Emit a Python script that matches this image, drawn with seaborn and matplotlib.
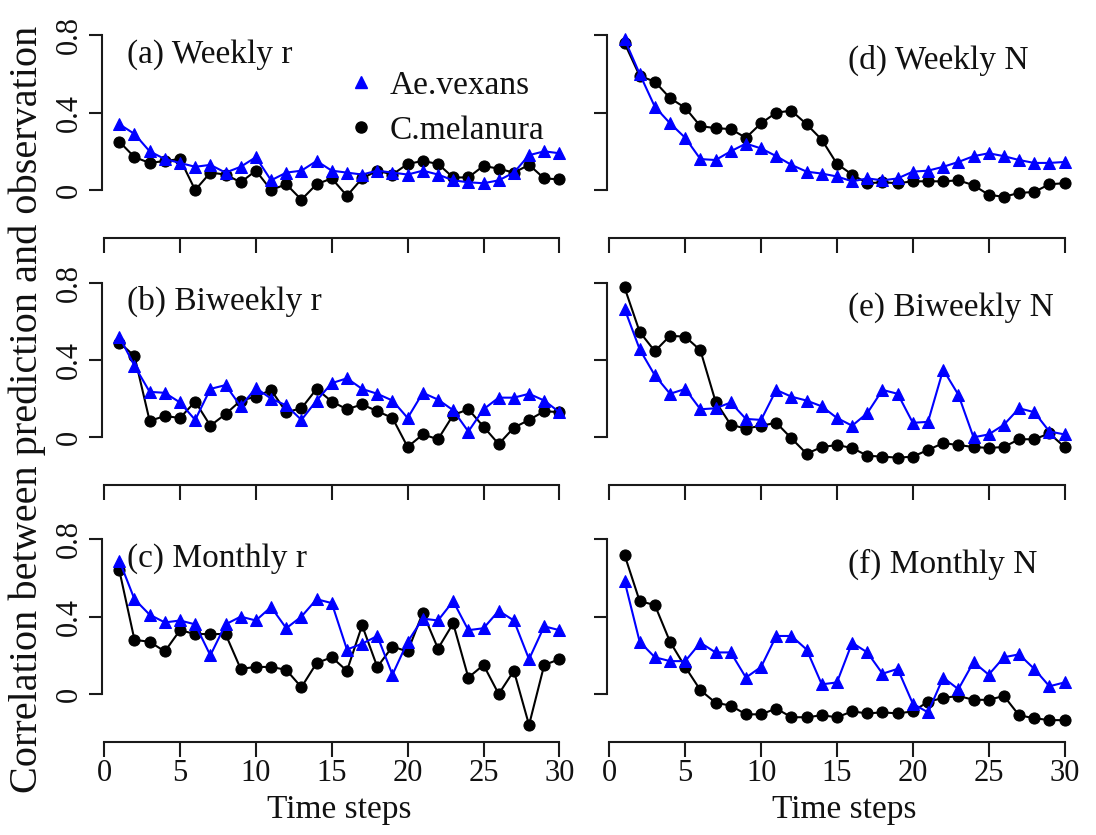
import numpy as np
import pandas as pd
import matplotlib
matplotlib.use("Agg")
import matplotlib.pyplot as plt
from matplotlib.lines import Line2D
import seaborn as sns

# ---------------- data ----------------
steps = list(range(1, 31))
species = ["Ae.vexans", "C.melanura"]
panel_titles = ["(a) Weekly r", "(b) Biweekly r", "(c) Monthly r",
                "(d) Weekly N", "(e) Biweekly N", "(f) Monthly N"]
x_ticks = [0, 5, 10, 15, 20, 25, 30]
y_ticks = [0, 0.4, 0.8]
y_tick_labels = ["0", "0.4", "0.8"]

weekly_r_vex = [0.34, 0.29, 0.20, 0.16, 0.14, 0.12, 0.13, 0.09, 0.12, 0.17,
                0.05, 0.09, 0.10, 0.15, 0.10, 0.09, 0.08, 0.10, 0.09, 0.08,
                0.10, 0.08, 0.05, 0.04, 0.035, 0.05, 0.09, 0.18, 0.20, 0.19]
weekly_r_mel = [0.25, 0.17, 0.14, 0.15, 0.16, 0.00, 0.09, 0.08, 0.04, 0.10,
                0.00, 0.03, -0.05, 0.03, 0.06, -0.03, 0.06, 0.10, 0.08, 0.135,
                0.15, 0.135, 0.065, 0.065, 0.125, 0.11, 0.09, 0.13, 0.06, 0.055]

biweekly_r_vex = [0.52, 0.37, 0.235, 0.23, 0.18, 0.09, 0.25, 0.27, 0.16, 0.255,
                  0.20, 0.165, 0.09, 0.19, 0.28, 0.305, 0.25, 0.225, 0.19, 0.10,
                  0.23, 0.195, 0.14, 0.03, 0.145, 0.205, 0.205, 0.225, 0.19, 0.13]
biweekly_r_mel = [0.49, 0.42, 0.085, 0.11, 0.10, 0.185, 0.06, 0.12, 0.19, 0.21,
                  0.245, 0.13, 0.15, 0.25, 0.185, 0.145, 0.17, 0.135, 0.10, -0.05,
                  0.015, -0.01, 0.115, 0.145, 0.055, -0.035, 0.05, 0.09, 0.135, 0.13]

monthly_r_vex = [0.69, 0.49, 0.41, 0.37, 0.38, 0.36, 0.20, 0.36, 0.40, 0.38,
                 0.45, 0.34, 0.40, 0.49, 0.47, 0.23, 0.26, 0.30, 0.10, 0.27,
                 0.39, 0.38, 0.48, 0.33, 0.34, 0.43, 0.38, 0.18, 0.35, 0.33]
monthly_r_mel = [0.64, 0.28, 0.27, 0.22, 0.33, 0.31, 0.31, 0.31, 0.13, 0.14,
                 0.14, 0.125, 0.035, 0.16, 0.19, 0.12, 0.355, 0.14, 0.245, 0.22,
                 0.42, 0.235, 0.365, 0.085, 0.15, 0.00, 0.12, -0.16, 0.15, 0.18]

weekly_n_vex = [0.78, 0.60, 0.43, 0.345, 0.27, 0.16, 0.155, 0.20, 0.24, 0.215,
                0.175, 0.13, 0.095, 0.085, 0.07, 0.045, 0.06, 0.05, 0.06, 0.095,
                0.10, 0.12, 0.145, 0.175, 0.19, 0.175, 0.155, 0.14, 0.14, 0.145]
weekly_n_mel = [0.76, 0.59, 0.56, 0.475, 0.425, 0.33, 0.32, 0.315, 0.27, 0.345,
                0.40, 0.41, 0.34, 0.26, 0.135, 0.08, 0.035, 0.04, 0.035, 0.045,
                0.045, 0.045, 0.05, 0.025, -0.025, -0.035, -0.015, -0.01, 0.03, 0.035]

biweekly_n_vex = [0.665, 0.455, 0.32, 0.225, 0.25, 0.145, 0.15, 0.18, 0.095, 0.09,
                  0.245, 0.21, 0.19, 0.16, 0.10, 0.06, 0.125, 0.245, 0.225, 0.075,
                  0.08, 0.35, 0.22, 0.00, 0.015, 0.065, 0.15, 0.13, 0.03, 0.015]
biweekly_n_mel = [0.775, 0.545, 0.445, 0.525, 0.52, 0.45, 0.185, 0.065, 0.045, 0.06,
                  0.075, -0.005, -0.085, -0.05, -0.04, -0.055, -0.095, -0.10, -0.105, -0.10,
                  -0.065, -0.03, -0.04, -0.05, -0.055, -0.05, -0.01, -0.01, 0.02, -0.05]

monthly_n_vex = [0.585, 0.27, 0.19, 0.17, 0.17, 0.265, 0.215, 0.215, 0.085, 0.14,
                 0.30, 0.30, 0.23, 0.05, 0.06, 0.265, 0.215, 0.105, 0.13, -0.05,
                 -0.095, 0.085, 0.025, 0.165, 0.10, 0.19, 0.205, 0.13, 0.04, 0.06]
monthly_n_mel = [0.72, 0.48, 0.46, 0.27, 0.14, 0.02, -0.045, -0.06, -0.105, -0.105,
                 -0.075, -0.12, -0.12, -0.11, -0.12, -0.09, -0.10, -0.095, -0.10, -0.09,
                 -0.04, -0.02, -0.01, -0.03, -0.03, -0.01, -0.11, -0.125, -0.135, -0.135]

series = {
    "(a) Weekly r": (weekly_r_vex, weekly_r_mel),
    "(b) Biweekly r": (biweekly_r_vex, biweekly_r_mel),
    "(c) Monthly r": (monthly_r_vex, monthly_r_mel),
    "(d) Weekly N": (weekly_n_vex, weekly_n_mel),
    "(e) Biweekly N": (biweekly_n_vex, biweekly_n_mel),
    "(f) Monthly N": (monthly_n_vex, monthly_n_mel),
}

# ---------------- style ----------------
sns.set_theme(style="white")
plt.rcParams["font.family"] = ["Liberation Serif", "DejaVu Serif"]
plt.rcParams["axes.linewidth"] = 1.5

W, H = 1096, 835
fig = plt.figure(figsize=(W / 100, H / 100), dpi=100)
fig.patch.set_facecolor("white")

col_left_px = [101.7, 606.9]
col_width_px = 475.3
row_bottom_px = [238.0, 485.3, 742.0]
row_height_px = 210.5
ylim = (-0.248, 0.84)
xlim = (-0.16, 31.16)

blue = "#0000FF"
black = "#000000"
axis_col = "#1a1a1a"
text_col = "#111111"

for i, title in enumerate(panel_titles):
    col = i // 3
    row = i % 3
    left = col_left_px[col] / W
    bottom = 1 - row_bottom_px[row] / H
    ax = fig.add_axes([left, bottom, col_width_px / W, row_height_px / H])
    vex, mel = series[title]
    df = pd.DataFrame({"step": steps * 2,
                       "value": vex + mel,
                       "species": [species[0]] * 30 + [species[1]] * 30})
    sns.lineplot(data=df[df.species == species[1]], x="step", y="value", ax=ax,
                 color=black, linewidth=1.5, marker="o", markersize=8,
                 markeredgecolor=black, markerfacecolor=black, legend=False, zorder=2)
    sns.lineplot(data=df[df.species == species[0]], x="step", y="value", ax=ax,
                 color=blue, linewidth=1.5, marker="^", markersize=8,
                 markeredgecolor=blue, markerfacecolor=blue, legend=False, zorder=3)

    ax.set_xlim(*xlim)
    ax.set_ylim(*ylim)
    for s in ["top", "right"]:
        ax.spines[s].set_visible(False)
    ax.spines["left"].set_bounds(0, 0.8)
    ax.spines["bottom"].set_bounds(0, 30)
    ax.spines["left"].set_color(axis_col)
    ax.spines["bottom"].set_color(axis_col)
    ax.set_xticks(x_ticks)
    ax.set_yticks(y_ticks)
    ax.tick_params(axis="y", direction="out", length=9.5, width=1.5, color=axis_col,
                   left=True, pad=3, labelsize=22, labelcolor=text_col)
    ax.tick_params(axis="x", direction="out", length=11, width=1.5, color=axis_col,
                   bottom=True, pad=1, labelsize=22, labelcolor=text_col)
    if col == 0:
        ax.set_yticklabels(y_tick_labels, rotation=90, va="center")
    else:
        ax.set_yticklabels([])
    if row == 2:
        ax.set_xticklabels([str(t) for t in x_ticks])
        ax.set_xlabel("Time steps", fontsize=24, labelpad=5, color=text_col)
    else:
        ax.set_xticklabels([])
        ax.set_xlabel("")
    ax.set_ylabel("")
    ax.grid(False)
    ax.set_facecolor("none")

    if col == 0:
        ax.text(0.053, 0.872, title, transform=ax.transAxes, fontsize=24,
                ha="left", va="center", color=text_col)
    else:
        ax.text(0.507, 0.845, title, transform=ax.transAxes, fontsize=24,
                ha="left", va="center", color=text_col)

    if i == 0:
        handles = [Line2D([], [], linestyle="none", marker="^", color=blue, markersize=8),
                   Line2D([], [], linestyle="none", marker="o", color=black, markersize=8)]
        ax.legend(handles, species, loc="upper left", bbox_to_anchor=(0.525, 0.795),
                  frameon=False, fontsize=24, handlelength=0.6, handletextpad=0.55,
                  labelspacing=0.42, borderpad=0, borderaxespad=0,
                  labelcolor=text_col)

fig.text(27 / W, 1 - 409 / H, "Correlation between prediction and observation",
         rotation=90, ha="center", va="center", fontsize=29, color=text_col)

fig.savefig("out.png", dpi=100, facecolor="white")
